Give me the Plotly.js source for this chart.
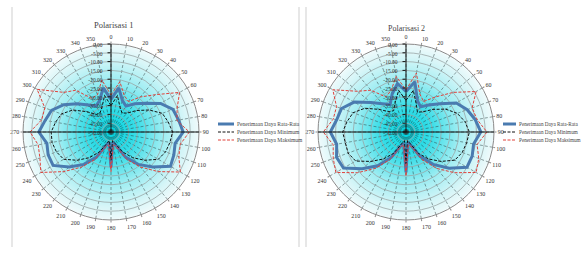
<!DOCTYPE html>
<html>
<head>
<meta charset="utf-8">
<script src="https://cdn.plot.ly/plotly-3.0.1.min.js"></script>
<style>html,body{margin:0;padding:0;background:#fff}#chart{width:586px;height:253px}</style>
</head>
<body>
<div id="chart"></div>
<script>
// ---- data ----
var angles = [0,10,20,30,40,50,60,70,80,90,100,110,120,130,140,150,160,170,180,190,200,210,220,230,240,250,260,270,280,290,300,310,320,330,340,350];
var radialTicks = [-50,-45,-40,-35,-30,-25,-20,-15,-10,-5,0];
var seriesNames = ["Penerimaan Daya Rata-Rata","Penerimaan Daya Minimum","Penerimaan Daya Maksimum"];
var chartTitles = ["Polarisasi 1","Polarisasi 2"];

var avg1 = [-31.5,-24.5,-31,-33,-29,-24.5,-17.5,-12.5,-11,-9,-13,-12,-11,-19,-26,-33.5,-42,-44,-30,-44,-42,-33.5,-26,-19,-12,-12,-13,-9,-12,-14,-19,-25,-30,-33,-31,-24.5];
var min1 = [-35,-29,-35,-37.5,-36,-31,-25,-19,-17,-15,-16,-17,-19,-25,-31,-37,-43,-45,-34,-45,-43,-37,-31,-25,-19,-17,-16,-16,-18,-20,-25,-32,-37,-37.5,-35,-29];
var max1 = [-29,-21,-28,-30,-24,-17,-5,-10,-12,-5.5,-10,-9,-4.5,-15,-24,-32,-41,-42.5,-27.5,-42.5,-41,-32,-24,-15,-4,-7,-8,-4,-10,-10,-1.5,-15,-19,-28,-27.5,-20];

var avg2 = [-27,-21,-31,-33.5,-30,-25,-17,-13,-10,-7.5,-11,-10,-10,-18,-26,-34,-42,-44,-27,-43,-42,-33.5,-25,-17.5,-9,-8,-10,-7,-10,-11,-16,-24,-29,-32,-27,-22];
var min2 = [-32,-26,-33,-37,-35,-30,-24,-19,-16,-14,-15,-16,-18,-24,-30,-36,-43,-45,-32,-45,-43,-36,-30,-24,-17,-15,-15,-14,-16,-18,-23,-30,-35,-36,-32,-26];
var max2 = [-26,-16,-27,-30,-24,-15,-4,-10,-9,-4,-9,-6,-4,-14,-23,-32,-41,-42.5,-25,-42.5,-41,-32,-23,-14,-4,-6,-8,-3,-8,-8,-2,-14,-19,-27,-25,-18];

// ---- styling ----
var W = 586, H = 253;
var dom1x = [23/W, 199/W], dom2x = [318/W, 494/W];
var domy = [1-220/H, 1-44/H];
var lineStyles = [
  {color:'#4a7bb0', width:3, dash:'solid'},
  {color:'#111111', width:1, dash:'3px,1.5px'},
  {color:'#e0403a', width:1, dash:'3px,1.5px'}
];
function closeLoop(a){ return a.concat([a[0]]); }

var traces = [];
function addSet(vals, polarId){
  for (var i=0;i<3;i++){
    traces.push({
      type:'scatterpolar', mode:'lines',
      r: closeLoop(vals[i]), theta: closeLoop(angles),
      name: seriesNames[i], subplot: polarId, showlegend:false,
      line: lineStyles[i], hoverinfo:'skip'
    });
  }
}
addSet([avg1,min1,max1],'polar');
addSet([avg2,min2,max2],'polar2');

// radial gradient background image
function gradImg(){
  var c = document.createElement('canvas'); c.width = 400; c.height = 400;
  var g = c.getContext('2d');
  var gr = g.createRadialGradient(200,200,0,200,200,200);
  gr.addColorStop(0,'rgb(0,212,224)');
  gr.addColorStop(0.3,'rgb(60,222,232)');
  gr.addColorStop(0.6,'rgb(160,238,243)');
  gr.addColorStop(0.85,'rgb(215,246,248)');
  gr.addColorStop(1,'rgb(240,251,252)');
  g.fillStyle = gr; g.beginPath(); g.arc(200,200,199,0,2*Math.PI); g.fill();
  return c.toDataURL();
}
var bg = gradImg();

function polarCfg(domx){
  return {
    domain:{x:domx, y:domy},
    bgcolor:'rgba(0,0,0,0)',
    angularaxis:{
      rotation:90, direction:'clockwise', thetaunit:'degrees',
      tickmode:'array', tickvals:angles, ticktext:angles.map(String),
      tickfont:{size:6, color:'#333', family:'Liberation Serif'},
      showgrid:true, gridcolor:'rgba(40,60,60,0.7)', griddash:'3px,2px', gridwidth:0.7,
      showline:true, linecolor:'#8a8a8a', linewidth:1,
      ticks:'outside', ticklen:2, tickcolor:'#8a8a8a'
    },
    radialaxis:{
      range:[-50,0], tickmode:'array', tickvals:radialTicks,
      ticktext:radialTicks.map(function(v){return v.toFixed(2);}),
      tickfont:{size:5.5, color:'#333', family:'Liberation Serif'},
      showgrid:true, gridcolor:'#9aa6a6', gridwidth:0.8,
      showline:true, linecolor:'#111', linewidth:1,
      ticks:'outside', ticklen:3, tickcolor:'#111',
      angle:90, side:'counterclockwise'
    }
  };
}

function hline(domx){
  var ym = (domy[0]+domy[1])/2;
  return {type:'line', xref:'paper', yref:'paper', x0:domx[0], x1:domx[1], y0:ym, y1:ym, line:{color:'#111', width:1}, layer:'above'};
}
function vline(px){
  return {type:'line', xref:'paper', yref:'paper', x0:px/W, x1:px/W, y0:1-7/H, y1:1-247/H, line:{color:'#cfcfcf', width:1}};
}

// manual legends
var legendRows = [124, 132, 140];
var shapes = [hline(dom1x), hline(dom2x), vline(12), vline(299), vline(306)];
var annotations = [
  {text:chartTitles[0], xref:'paper', yref:'paper', x:113/W, y:1-25/H, xanchor:'center', yanchor:'middle', showarrow:false, font:{size:8.5, color:'#444', family:'Liberation Serif'}},
  {text:chartTitles[1], xref:'paper', yref:'paper', x:406/W, y:1-28/H, xanchor:'center', yanchor:'middle', showarrow:false, font:{size:8, color:'#444', family:'Liberation Serif'}}
];
function addLegend(x0, len, fs){
  for (var i=0;i<3;i++){
    var st = lineStyles[i];
    shapes.push({type:'line', xref:'paper', yref:'paper', x0:x0/W, x1:(x0+len)/W, y0:1-legendRows[i]/H, y1:1-legendRows[i]/H,
      line:{color:st.color, width:st.width, dash:st.dash}});
    annotations.push({text:seriesNames[i], xref:'paper', yref:'paper', x:(x0+len+1)/W, y:1-legendRows[i]/H,
      xanchor:'left', yanchor:'middle', showarrow:false, font:{size:fs, color:'#444', family:'Liberation Serif'}});
  }
}
addLegend(218, 16, 5.5);
addLegend(503, 13, 5.2);

var layout = {
  width:W, height:H, margin:{l:0,r:0,t:0,b:0,autoexpand:false},
  paper_bgcolor:'#fff', plot_bgcolor:'#fff',
  showlegend:false,
  polar: polarCfg(dom1x),
  polar2: polarCfg(dom2x),
  images:[
    {source:bg, xref:'paper', yref:'paper', x:dom1x[0], y:domy[1], sizex:dom1x[1]-dom1x[0], sizey:domy[1]-domy[0], sizing:'stretch', layer:'below'},
    {source:bg, xref:'paper', yref:'paper', x:dom2x[0], y:domy[1], sizex:dom2x[1]-dom2x[0], sizey:domy[1]-domy[0], sizing:'stretch', layer:'below'}
  ],
  shapes:shapes,
  annotations:annotations
};

Plotly.newPlot('chart', traces, layout, {staticPlot:true, displayModeBar:false});
</script>
</body>
</html>
